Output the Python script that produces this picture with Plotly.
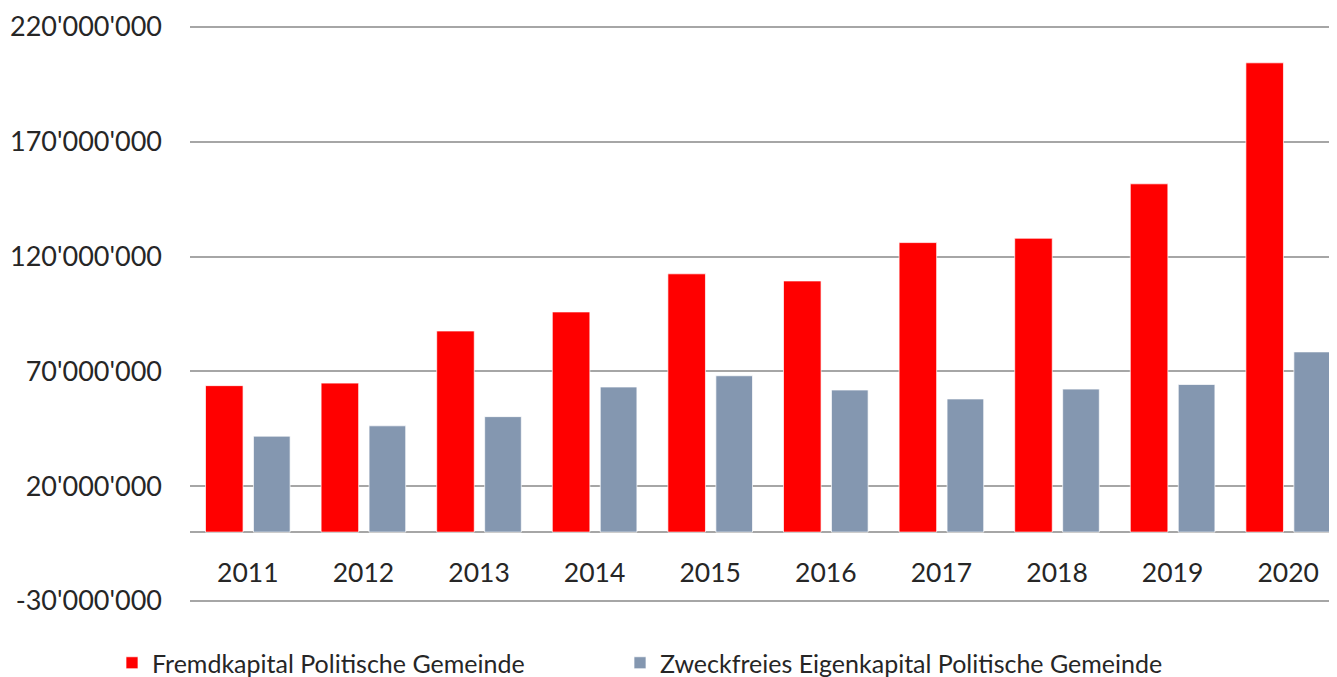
import plotly.graph_objects as go

years = ["2011", "2012", "2013", "2014", "2015", "2016", "2017", "2018", "2019", "2020"]
fremdkapital = [63.8e6, 64.9e6, 87.6e6, 95.9e6, 112.5e6, 109.4e6, 126.1e6, 128.0e6, 151.7e6, 204.4e6]
eigenkapital = [41.8e6, 46.3e6, 50.3e6, 63.2e6, 68.1e6, 61.9e6, 58.0e6, 62.3e6, 64.3e6, 78.5e6]
series_names = ["Fremdkapital Politische Gemeinde", "Zweckfreies Eigenkapital Politische Gemeinde"]
y_ticks = [-30e6, 20e6, 70e6, 120e6, 170e6, 220e6]


def swiss(v):
    s = f"{abs(int(v)):,}".replace(",", "'")
    return ("-" if v < 0 else "") + s


y_ticktext = [swiss(v) for v in y_ticks]

FONT = "Lato"
TXT = "#262626"

# the page body has an 8px margin, so the figure sits at (8, 8) in the window
OFF = 8
PAD = 2  # extra pixels above/below so edge gridlines are drawn
W, H = 1337 - OFF, 677 - OFF
L, T = 190 - OFF, 27 - OFF - PAD
R = 0
B = H - (601 - OFF + PAD)
plot_w = W - L - R
plot_h = H - T - B
y_lo, y_hi = -30e6, 220e6
per_px = (y_hi - y_lo) / (plot_h - 2 * PAD)
y_range = [y_lo - PAD * per_px, y_hi + PAD * per_px]


def px_x(p):
    return (p - OFF - L) / plot_w


def px_y(p):
    return (T + plot_h - (p - OFF)) / plot_h


fig = go.Figure()
fig.add_trace(go.Bar(
    x=years, y=fremdkapital, name=series_names[0], legend="legend",
    marker=dict(color="#FF0000", line=dict(color="rgba(255,255,255,0.7)", width=1)),
    offset=-0.366, width=0.325,
))
fig.add_trace(go.Bar(
    x=years, y=eigenkapital, name=series_names[1], legend="legend2",
    marker=dict(color="#8497B0", line=dict(color="rgba(255,255,255,0.7)", width=1)),
    offset=0.049, width=0.317,
))

leg_common = dict(
    orientation="h", xanchor="left", yanchor="middle",
    font=dict(family=FONT, size=25, color=TXT),
    bgcolor="rgba(0,0,0,0)",
)

fig.update_layout(
    width=W, height=H,
    margin=dict(l=L, r=R, t=T, b=B, autoexpand=False),
    barmode="overlay",
    plot_bgcolor="white", paper_bgcolor="white",
    font=dict(family=FONT, color=TXT, size=24),
    showlegend=True,
    legend=dict(x=px_x(112), y=px_y(663), **leg_common),
    legend2=dict(x=px_x(620), y=px_y(663), **leg_common),
    xaxis=dict(
        type="category",
        range=[-0.5, -0.5 + plot_w / 115.6],
        showgrid=False, showline=False, zeroline=False,
        anchor="free", position=px_y(532),
        ticks="", ticklabelstandoff=22, automargin=False,
        tickfont=dict(family=FONT, size=26.5, color=TXT),
    ),
    yaxis=dict(
        range=y_range,
        tickmode="array", tickvals=y_ticks, ticktext=y_ticktext,
        showgrid=True, gridcolor="#A6A6A6", gridwidth=1.5,
        zeroline=True, zerolinecolor="#A6A6A6", zerolinewidth=1.5,
        showline=False, ticks="", ticklabelstandoff=27, automargin=False,
        tickfont=dict(family=FONT, size=27, color=TXT),
    ),
)

fig.write_html("out.html")
